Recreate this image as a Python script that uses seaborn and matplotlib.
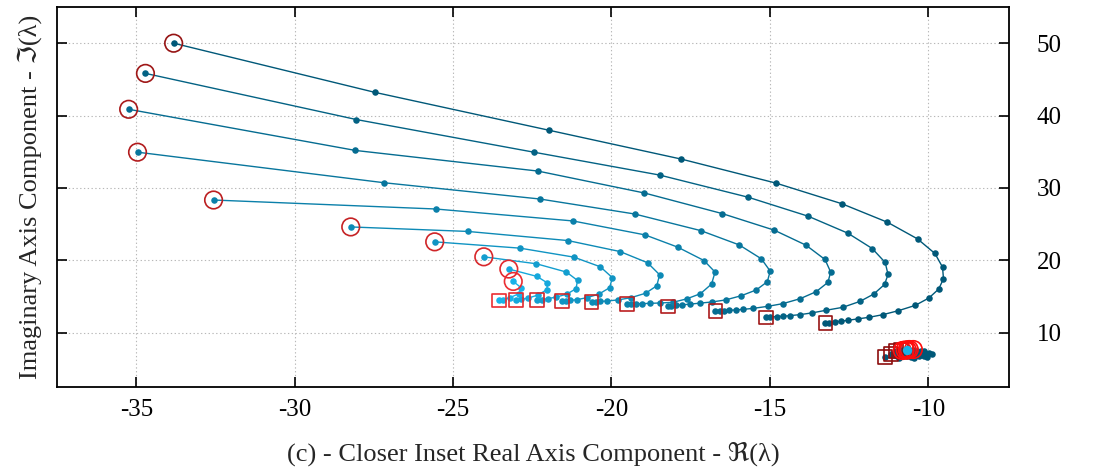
import matplotlib
matplotlib.use("Agg")
import matplotlib.pyplot as plt
import numpy as np
import pandas as pd
import seaborn as sns

# ---------------- data ----------------
c1_x = [-33.82, -27.47, -21.98, -17.79, -14.81, -12.73, -11.29, -10.34, -9.79, -9.55, -9.52, -9.67,
        -9.98, -10.41, -10.94, -11.43, -11.87, -12.23, -12.53, -12.77, -12.94, -13.13, -13.25]
c1_y = [50.0, 43.21, 37.98, 33.98, 30.67, 27.82, 25.26, 22.96, 20.94, 19.06, 17.45, 16.03,
        14.79, 13.77, 13.04, 12.49, 12.12, 11.90, 11.71, 11.57, 11.49, 11.35, 11.30]

c2_x = [-34.71, -28.05, -22.45, -18.48, -15.68, -13.79, -12.54, -11.77, -11.36, -11.27, -11.38,
        -11.72, -12.15, -12.70, -13.23, -13.67, -14.05, -14.37, -14.60, -14.79, -14.99, -15.13]
c2_y = [45.83, 39.45, 34.94, 31.78, 28.71, 26.09, 23.75, 21.63, 19.70, 18.04, 16.66,
        15.34, 14.33, 13.50, 13.09, 12.73, 12.49, 12.35, 12.26, 12.22, 12.17, 12.12]

c3_x = [-35.24, -28.08, -22.32, -18.96, -16.50, -14.86, -13.86, -13.26, -13.08, -13.17, -13.54,
        -14.04, -14.59, -15.06, -15.52, -15.84, -16.08, -16.28, -16.44, -16.58, -16.72]
c3_y = [40.87, 35.18, 32.33, 29.30, 26.45, 24.16, 22.09, 20.11, 18.37, 16.94, 15.66,
        14.70, 14.01, 13.64, 13.36, 13.22, 13.14, 13.09, 13.05, 13.05, 13.00]

c4_x = [-34.96, -27.18, -22.26, -19.27, -17.18, -15.97, -15.27, -14.99, -15.08, -15.43, -15.90,
        -16.40, -16.83, -17.21, -17.52, -17.78, -17.97, -18.12, -18.22]
c4_y = [34.94, 30.72, 28.47, 26.40, 24.10, 22.13, 20.21, 18.51, 17.04, 15.90, 15.11,
        14.52, 14.24, 14.08, 13.94, 13.84, 13.76, 13.69, 13.62]

c5_x = [-32.56, -25.55, -21.22, -18.94, -17.91, -17.08, -16.73, -16.84, -17.19, -17.63, -18.07,
        -18.47, -18.79, -19.04, -19.23, -19.39, -19.51]
c5_y = [28.33, 27.09, 25.44, 23.51, 21.82, 19.97, 18.37, 16.72, 15.39, 14.66, 14.19,
        14.10, 14.05, 14.01, 13.98, 13.97, 13.97]

c6_x = [-28.23, -24.54, -21.38, -19.73, -18.86, -18.48, -18.57, -18.92, -19.39, -19.80, -20.13,
        -20.35, -20.50, -20.63]
c6_y = [24.61, 23.99, 22.73, 21.21, 19.66, 18.00, 16.48, 15.45, 14.83, 14.52, 14.38,
        14.31, 14.28, 14.24]

c7_x = [-25.58, -22.89, -21.19, -20.35, -19.97, -20.06, -20.40, -20.78, -21.09, -21.31, -21.44, -21.56]
c7_y = [22.55, 21.68, 20.44, 19.10, 17.59, 16.21, 15.32, 14.83, 14.56, 14.45, 14.42, 14.39]

c8_x = [-24.03, -22.37, -21.42, -21.07, -21.12, -21.41, -21.76, -22.01, -22.20, -22.35]
c8_y = [20.48, 19.52, 18.37, 17.21, 16.07, 15.32, 14.90, 14.70, 14.56, 14.49]

c9_x = [-23.24, -22.35, -22.02, -22.04, -22.33, -22.64, -22.86, -23.02]
c9_y = [18.79, 17.77, 16.86, 15.94, 15.18, 14.77, 14.60, 14.52]

c10_x = [-23.10, -22.84, -22.92, -23.21, -23.43, -23.55]
c10_y = [17.08, 16.17, 15.39, 14.83, 14.56, 14.46]

# slow eigenvalue cluster near (-10.6, 7)
k1_x = [-10.47, -10.13, -9.87, -10.03, -10.44, -10.92, -11.36]
k1_y = [7.67, 7.40, 7.05, 6.64, 6.43, 6.43, 6.61]
k2_x = [-10.60, -10.22, -9.97, -10.13, -10.54, -10.98, -11.18]
k2_y = [7.67, 7.40, 7.12, 6.71, 6.57, 6.71, 7.08]
k3_x = [-10.73, -10.35, -10.09, -10.28, -10.66, -10.95, -11.02]
k3_y = [7.60, 7.40, 7.12, 6.78, 6.71, 6.98, 7.44]
k4_x = [-10.82, -10.44, -10.25, -10.51, -10.79, -10.86]
k4_y = [7.53, 7.33, 7.05, 6.85, 7.12, 7.58]
k5_x = [-10.66, -10.63, -10.68]
k5_y = [7.60, 7.47, 7.58]

x_ticks = [-35, -30, -25, -20, -15, -10]
y_ticks = [10, 20, 30, 40, 50]
x_label = "(c) - Closer Inset Real Axis Component - \u211c(\u03bb)"
y_label = "Imaginary Axis Component - \u2111(\u03bb)"

curves = {
    "c1": (c1_x, c1_y), "c2": (c2_x, c2_y), "c3": (c3_x, c3_y), "c4": (c4_x, c4_y),
    "c5": (c5_x, c5_y), "c6": (c6_x, c6_y), "c7": (c7_x, c7_y), "c8": (c8_x, c8_y),
    "c9": (c9_x, c9_y), "c10": (c10_x, c10_y),
    "k1": (k1_x, k1_y), "k2": (k2_x, k2_y), "k3": (k3_x, k3_y), "k4": (k4_x, k4_y),
    "k5": (k5_x, k5_y),
}

# ---------------- styling ----------------
sns.set_style("white")
plt.rcParams["font.family"] = ["Liberation Serif", "DejaVu Serif", "DejaVu Sans"]
plt.rcParams["axes.unicode_minus"] = False

dark = np.array([0, 88, 120]) / 255
light = np.array([24, 178, 232]) / 255
red_dark = np.array([150, 20, 20]) / 255
red_light = np.array([235, 45, 50]) / 255

blue_pal, circ_col, sq_col = {}, {}, {}
for i in range(10):
    t = i / 9
    name = f"c{i+1}"
    blue_pal[name] = tuple(dark * (1 - t) + light * t)
    circ_col[name] = tuple(red_dark * (1 - t) + red_light * t)
    sq_col[name] = tuple(red_dark * (1 - t) + red_light * t)
for name in ["k1", "k2", "k3", "k4"]:
    blue_pal[name] = tuple(dark)
    circ_col[name] = (1.0, 0.05, 0.05)
    sq_col[name] = (0.55, 0.05, 0.05)
blue_pal["k5"] = tuple(light)
circ_col["k5"] = (1.0, 0.05, 0.05)
sq_col["k5"] = (1.0, 0.05, 0.05)

rows = []
for name, (xs, ys) in curves.items():
    for j, (xv, yv) in enumerate(zip(xs, ys)):
        rows.append({"traj": name, "x": xv, "y": yv, "step": j})
df = pd.DataFrame(rows)
starts = df.groupby("traj", sort=False).head(1).reset_index(drop=True)
ends = df.groupby("traj", sort=False).tail(1).reset_index(drop=True)

fig, ax = plt.subplots(figsize=(10.93, 4.69), dpi=100)
fig.subplots_adjust(left=0.0522, right=0.9232, top=0.985, bottom=0.175)

sns.lineplot(data=df, x="x", y="y", hue="traj", palette=blue_pal, sort=False,
             estimator=None, marker="o", markersize=4.7, markeredgewidth=0,
             linewidth=1.0, legend=False, ax=ax, zorder=3)

# end squares
sns.scatterplot(data=ends, x="x", y="y", marker="s", s=95, ax=ax, legend=False, zorder=4)
coll = ax.collections[-1]
coll.set_facecolor("none")
coll.set_edgecolor([sq_col[n] for n in ends["traj"]])
coll.set_linewidth(1.2)

# start circles
sns.scatterplot(data=starts, x="x", y="y", marker="o", s=160, ax=ax, legend=False, zorder=5)
coll = ax.collections[-1]
coll.set_facecolor("none")
coll.set_edgecolor([circ_col[n] for n in starts["traj"]])
coll.set_linewidth(1.2)

# bigger light dot in the cluster
sns.scatterplot(x=[k5_x[0]], y=[k5_y[0]], color=tuple(light), s=45, linewidth=0,
                ax=ax, legend=False, zorder=6)

ax.set_xlim(-37.5, -7.45)
ax.set_ylim(2.5, 55)
ax.set_xticks(x_ticks)
ax.set_yticks(y_ticks)
ax.set_xticklabels([str(v) for v in x_ticks])
ax.set_yticklabels([str(v) for v in y_ticks])
ax.grid(True, linestyle=(0, (1.2, 2.2)), color="#b8b8b8", linewidth=0.8)
ax.set_axisbelow(True)
for sp in ax.spines.values():
    sp.set_color("black")
    sp.set_linewidth(1.3)
ax.tick_params(direction="in", length=7, width=1.2, top=True, bottom=True, left=True,
               right=True, labelleft=False, labelright=True, labelsize=18, colors="black")
ax.tick_params(axis="y", pad=20)
ax.tick_params(axis="x", pad=9)

ax.set_xlabel(x_label, fontsize=19)
ax.set_ylabel(y_label, fontsize=19)
ax.xaxis.set_label_coords(0.5, -0.145)
ax.yaxis.set_label_coords(-0.016, 0.5)

fig.savefig("out.png", dpi=100)
